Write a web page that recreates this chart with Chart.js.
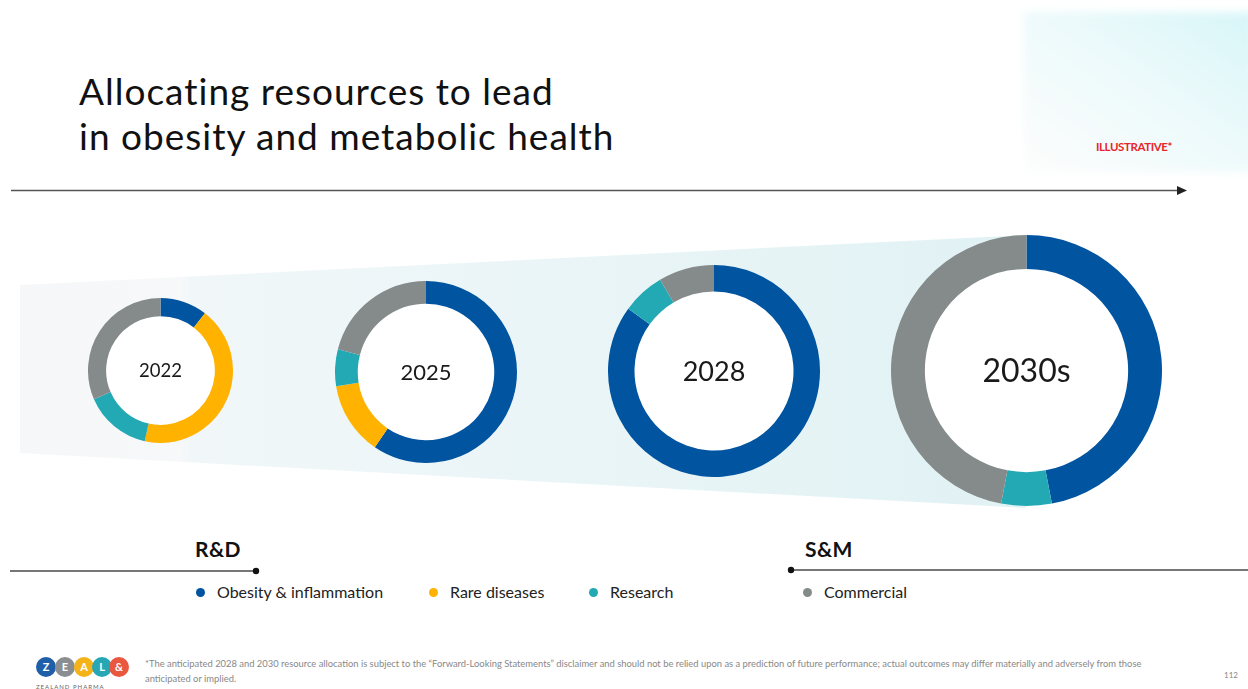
<!DOCTYPE html>
<html>
<head>
<meta charset="utf-8">
<script src="https://cdn.jsdelivr.net/npm/chart.js@4.4.1/dist/chart.umd.min.js"></script>
<style>
  body { margin: 0; width: 1248px; height: 689px; position: relative; overflow: hidden; background: #fff; font-family: Lato, 'Open Sans', sans-serif; color: #1a1a1a }
  #bg { position: absolute; left: 0; top: 0 }
  .title { position: absolute; left: 79px; top: 68px; font-size: 37px; line-height: 45px; color: #111; letter-spacing: 1px }
  .illus { position: absolute; left: 1096px; top: 140px; font-size: 11.5px; font-weight: bold; color: #e8262a; letter-spacing: -0.4px }
  .ring { position: absolute }
  .group { position: absolute; top: 536px; font-size: 21px; font-weight: bold; color: #111; letter-spacing: 0.4px }
  .legend { position: absolute; top: 582px; font-size: 16px; color: #222; white-space: nowrap }
  .legend span.dot { display: inline-block; width: 9px; height: 9px; border-radius: 50%; margin-right: 12px; vertical-align: 1px }
  .note { position: absolute; left: 145px; top: 656px; font-size: 9.4px; line-height: 15px; color: #888; width: 1010px }
  .page { position: absolute; left: 1224px; top: 670px; font-size: 8px; color: #888 }
  .logo-sub { position: absolute; left: 36px; top: 683px; font-size: 6px; color: #666; letter-spacing: 1px }
</style>
</head>
<body>
<svg id="bg" width="1248" height="689">
  <defs>
    <linearGradient id="funnel" x1="0" y1="0" x2="1" y2="0">
      <stop offset="0" stop-color="#f6f7f8"/>
      <stop offset="0.16" stop-color="#f6f8f9"/>
      <stop offset="0.17" stop-color="#f1f7f9"/>
      <stop offset="1" stop-color="#e1f2f4"/>
    </linearGradient>
    <linearGradient id="deco" x1="1" y1="0" x2="0" y2="1">
      <stop offset="0" stop-color="#d8f6f8"/>
      <stop offset="0.5" stop-color="#eefafb"/>
      <stop offset="1" stop-color="#fdfdfd"/>
    </linearGradient>
    <filter id="soft"><feGaussianBlur stdDeviation="4"/></filter>
  </defs>
  <rect x="1024" y="12" width="230" height="160" fill="url(#deco)" filter="url(#soft)"/>
  <line x1="11" y1="190.5" x2="1178" y2="190.5" stroke="#555" stroke-width="1.6"/>
  <polygon points="1177,186 1187,190.5 1177,195" fill="#222"/>
  <polygon points="20,285 1026,235 1026,508 20,453" fill="url(#funnel)"/>
  <line x1="10" y1="571" x2="255" y2="571" stroke="#777" stroke-width="2"/>
  <circle cx="256" cy="571" r="3.2" fill="#111"/>
  <line x1="791" y1="570" x2="1248" y2="570" stroke="#777" stroke-width="2"/>
  <circle cx="791" cy="570" r="3.2" fill="#111"/>
  <g font-family="Lato, sans-serif" font-weight="bold" font-size="11" text-anchor="middle" fill="#fff">
    <circle cx="46" cy="667" r="10" fill="#1f5fa8"/><text x="46" y="671">Z</text>
    <circle cx="65" cy="667" r="10" fill="#8a8e90"/><text x="65" y="671">E</text>
    <circle cx="84" cy="667" r="10" fill="#f5b31a"/><text x="84" y="671">A</text>
    <circle cx="102" cy="667" r="10" fill="#27a7b5"/><text x="102" y="671">L</text>
    <circle cx="119" cy="667" r="10" fill="#e9573f"/><text x="119" y="671">&amp;</text>
  </g>
</svg>

<div class="title">Allocating resources to lead<br>in obesity and metabolic health</div>
<div class="illus">ILLUSTRATIVE*</div>

<div class="group" style="left:195px">R&amp;D</div>
<div class="group" style="left:805px">S&amp;M</div>

<div class="note">*The anticipated 2028 and 2030 resource allocation is subject to the “Forward-Looking Statements” disclaimer and should not be relied upon as a prediction of future performance; actual outcomes may differ materially and adversely from those anticipated or implied.</div>
<div class="page">112</div>
<div class="logo-sub">ZEALAND PHARMA</div>

<script>
// data (share of resources, %)
const categories = ['Obesity & inflammation', 'Rare diseases', 'Research', 'Commercial']
const years = ['2022', '2025', '2028', '2030s']
const obesity = [10.5, 59.5, 85, 47]
const rareDiseases = [43, 13, 0, 0]
const research = [15, 6.5, 6.5, 6]
const commercial = [31.5, 21, 8.5, 47]

const colors = ['#0054a0', '#ffb300', '#22a9b4', '#858b8b']
const legendX = [196, 429, 589, 803]

// where each ring sits on the slide
const rings = [
  { cx: 160.5, cy: 370.5, r: 72.5, font: 18.5 },
  { cx: 426, cy: 371.5, r: 91, font: 22 },
  { cx: 714, cy: 371, r: 106, font: 27 },
  { cx: 1026, cy: 370, r: 135.5, font: 32 },
]

// white hole behind the ring + year in the middle
const centerLabel = {
  id: 'centerLabel',
  beforeDatasetsDraw(chart) {
    const ctx = chart.ctx
    const { left, right, top, bottom } = chart.chartArea
    ctx.save()
    ctx.fillStyle = '#fff'
    ctx.beginPath()
    ctx.arc((left + right) / 2, (top + bottom) / 2, Math.min(right - left, bottom - top) / 2 - 2, 0, Math.PI * 2)
    ctx.fill()
    ctx.restore()
  },
  afterDraw(chart, args, opts) {
    const ctx = chart.ctx
    const { left, right, top, bottom } = chart.chartArea
    ctx.save()
    ctx.font = opts.size + 'px Lato, sans-serif'
    ctx.fillStyle = '#1a1a1a'
    ctx.textAlign = 'center'
    ctx.textBaseline = 'middle'
    ctx.fillText(opts.text, (left + right) / 2, (top + bottom) / 2 + 1)
    ctx.restore()
  },
}

years.forEach((year, i) => {
  let ring = rings[i]
  let size = Math.round(ring.r * 2)
  let canvas = document.createElement('canvas')
  canvas.className = 'ring'
  canvas.width = size
  canvas.height = size
  canvas.style.left = Math.round(ring.cx - ring.r) + 'px'
  canvas.style.top = Math.round(ring.cy - ring.r) + 'px'
  document.body.appendChild(canvas)

  new Chart(canvas, {
    type: 'doughnut',
    data: {
      labels: categories,
      datasets: [
        {
          data: [obesity[i], rareDiseases[i], research[i], commercial[i]],
          backgroundColor: colors,
          borderWidth: 0,
        },
      ],
    },
    options: {
      responsive: false,
      animation: false,
      cutout: '75%',
      layout: { padding: 0 },
      plugins: {
        legend: { display: false },
        tooltip: { enabled: false },
        centerLabel: { text: year, size: ring.font },
      },
    },
    plugins: [centerLabel],
  })
})

categories.forEach((name, i) => {
  let item = document.createElement('div')
  item.className = 'legend'
  item.style.left = legendX[i] + 'px'
  item.innerHTML = '<span class="dot" style="background:' + colors[i] + '"></span>'
  item.appendChild(document.createTextNode(name))
  document.body.appendChild(item)
})
</script>
</body>
</html>
